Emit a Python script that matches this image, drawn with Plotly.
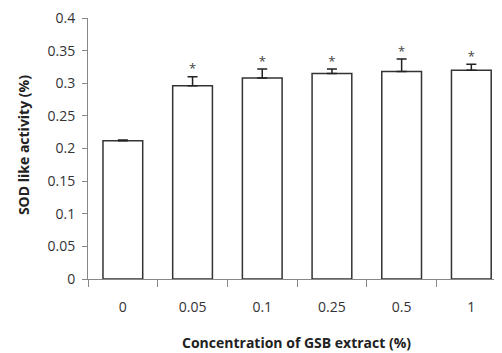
import plotly.graph_objects as go

categories = ["0", "0.05", "0.1", "0.25", "0.5", "1"]
values = [0.212, 0.296, 0.308, 0.315, 0.318, 0.320]
errors = [0.001, 0.014, 0.014, 0.007, 0.019, 0.009]
stars = ["", "*", "*", "*", "*", "*"]
ytick_vals = [0, 0.05, 0.1, 0.15, 0.2, 0.25, 0.3, 0.35, 0.4]
ytick_text = ["0", "0.05", "0.1", "0.15", "0.2", "0.25", "0.3", "0.35", "0.4"]

FONT = "Open Sans"
fig = go.Figure()
fig.add_trace(go.Bar(
    x=categories, y=values,
    marker=dict(color="white", line=dict(color="#333333", width=1.5)),
    width=0.57,
    error_y=dict(type="data", array=errors, visible=True, symmetric=False,
                 color="#222222", thickness=1.5, width=5),
    showlegend=False,
))
fig.add_trace(go.Scatter(
    x=categories, y=[v + e for v, e in zip(values, errors)],
    mode="text", text=stars, textposition="top center",
    textfont=dict(family=FONT, size=13, color="#444444"),
    showlegend=False, cliponaxis=False,
))
fig.update_layout(
    width=494, height=345,
    margin=dict(l=80, r=0, t=6, b=74),
    paper_bgcolor="white", plot_bgcolor="white",
    font=dict(family=FONT, size=14, color="#333333"),
)
fig.update_xaxes(
    type="category", range=[-0.5, 5.44], tickson="boundaries",
    showline=True, linecolor="#888888", linewidth=1,
    ticks="outside", ticklen=7, tickcolor="#888888",
    ticklabelstandoff=15, showgrid=False, zeroline=False,
    ticklabeloverflow="allow",
    tickfont=dict(family=FONT, size=14, color="#333333"),
)
fig.update_yaxes(
    range=[0, 0.4], tickvals=ytick_vals, ticktext=ytick_text,
    showline=True, linecolor="#888888", linewidth=1,
    ticks="outside", ticklen=5, tickcolor="#888888",
    ticklabelstandoff=4, showgrid=False, zeroline=False,
    ticklabeloverflow="allow",
    tickfont=dict(family=FONT, size=14, color="#333333"),
)
fig.add_annotation(
    text="<b>SOD like activity (%)</b>", textangle=-90,
    xref="paper", yref="paper", x=-0.157, y=0.513,
    xanchor="center", yanchor="middle", showarrow=False,
    font=dict(family=FONT, size=14, color="#222222"),
)
fig.add_annotation(
    text="<b>Concentration of GSB extract (%)</b>",
    xref="paper", yref="paper", x=0.503, y=-0.2415,
    xanchor="center", yanchor="middle", showarrow=False,
    font=dict(family=FONT, size=14, color="#222222"),
)
fig.write_html("out.html")
